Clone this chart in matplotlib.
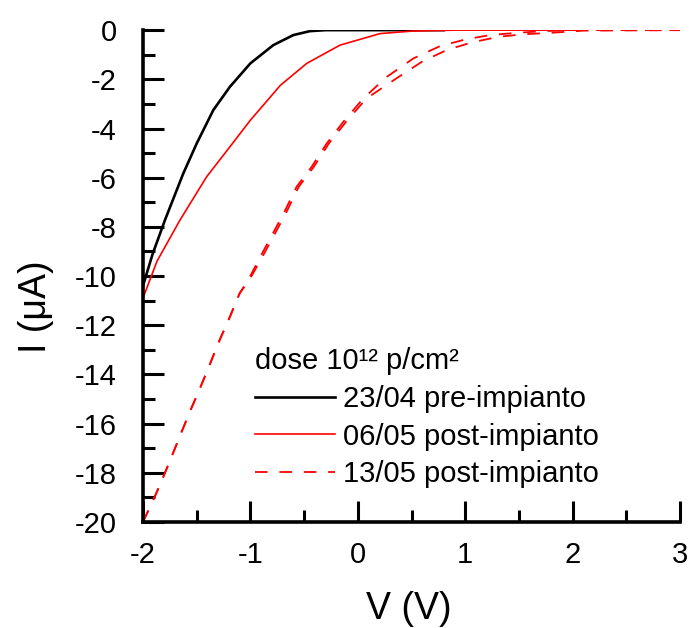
import matplotlib
matplotlib.use("Agg")
import matplotlib.pyplot as plt
from matplotlib.ticker import MultipleLocator

plt.rcParams['font.family'] = ['Liberation Sans', 'DejaVu Sans']
plt.rcParams['axes.unicode_minus'] = False

# 23/04 pre-impianto
v_pre = [-2.0, -1.91, -1.795, -1.625, -1.50, -1.345, -1.19, -1.00, -0.787, -0.60, -0.445, -0.30, 0.0, 0.8]
i_pre = [-10.4, -9.1, -7.72, -5.83, -4.61, -3.25, -2.30, -1.35, -0.61, -0.20, -0.04, 0.0, 0.0, 0.0]

# 06/05 post-impianto
v_post1 = [-2.0, -1.87, -1.655, -1.407, -1.19, -1.00, -0.72, -0.475, -0.166, 0.207, 0.50, 0.90, 2.0]
i_post1 = [-10.9, -9.4, -7.72, -5.96, -4.74, -3.66, -2.24, -1.35, -0.61, -0.14, -0.04, 0.0, 0.0]

# 13/05 post-impianto (two overlapping sweeps)
v_post2a = [-2.0, -1.89, -1.81, -1.72, -1.64, -1.55, -1.47, -1.38, -1.30, -1.19, -1.10, -1.02, -0.89,
            -0.69, -0.57, -0.43, -0.29, -0.135, 0.05, 0.27, 0.517, 0.765, 1.0, 1.23, 1.48, 1.73, 2.0, 3.0]
i_post2a = [-20.0, -18.97, -18.16, -17.2, -16.33, -15.38, -14.57, -13.62, -12.74, -11.65, -10.70, -10.16, -9.07,
            -7.45, -6.37, -5.56, -4.61, -3.73, -2.78, -1.90, -1.15, -0.65, -0.38, -0.20, -0.11, -0.04, 0.0, 0.0]
v_post2b = [-2.0, -1.89, -1.81, -1.72, -1.64, -1.55, -1.47, -1.38, -1.30, -1.19, -1.10, -1.01, -0.87,
            -0.67, -0.55, -0.41, -0.27, -0.11, 0.08, 0.36, 0.595, 0.827, 1.06, 1.31, 1.54, 1.79, 2.1, 3.0]
i_post2b = [-20.0, -18.97, -18.16, -17.2, -16.33, -15.38, -14.57, -13.62, -12.74, -11.65, -10.70, -10.16, -9.07,
            -7.45, -6.37, -5.56, -4.61, -3.73, -2.78, -1.96, -1.29, -0.81, -0.50, -0.27, -0.17, -0.11, -0.02, 0.0]

fig = plt.figure(figsize=(6.89, 6.28), dpi=100)
ax = fig.add_axes([0.2075, 0.1688, 0.7795, 0.7832])

l1, = ax.plot(v_pre, i_pre, color='black', lw=1.9, label='23/04 pre-impianto')
l2, = ax.plot(v_post1, i_post1, color='red', lw=1.2, label='06/05 post-impianto')
l3, = ax.plot(v_post2a, i_post2a, color='red', lw=1.3, dashes=(7, 6.5), label='13/05 post-impianto')
ax.plot(v_post2b, i_post2b, color='red', lw=1.3, dashes=(7, 6.5))

ax.set_xlim(-2, 3)
ax.set_ylim(-20, 0)
ax.xaxis.set_major_locator(MultipleLocator(1))
ax.xaxis.set_minor_locator(MultipleLocator(0.5))
ax.yaxis.set_major_locator(MultipleLocator(2))
ax.yaxis.set_minor_locator(MultipleLocator(1))

for s in ['top', 'right']:
    ax.spines[s].set_visible(False)
for s in ['left', 'bottom']:
    ax.spines[s].set_linewidth(2.6)
    ax.spines[s].set_capstyle('projecting')

ax.tick_params(which='major', direction='in', length=15, width=2.2, labelsize=21)
ax.tick_params(which='minor', direction='in', length=8.5, width=2.2)
ax.tick_params(axis='y', which='major', pad=19)
ax.tick_params(axis='x', which='major', pad=14)

ax.set_xlabel('V (V)', fontsize=27)
ax.set_ylabel('I (μA)', fontsize=27)
ax.xaxis.set_label_coords(0.495, -0.14)
ax.yaxis.set_label_coords(-0.165, 0.437)

leg = ax.legend(handles=[l1, l2, l3], title='dose 10¹² p/cm²', loc='upper left',
                bbox_to_anchor=(0.2086, 0.355), frameon=False, fontsize=21,
                title_fontsize=21, handlelength=2.75, handletextpad=0.28,
                labelspacing=0.33, borderpad=0, borderaxespad=0, alignment='left')

fig.savefig('out.png', dpi=100)
